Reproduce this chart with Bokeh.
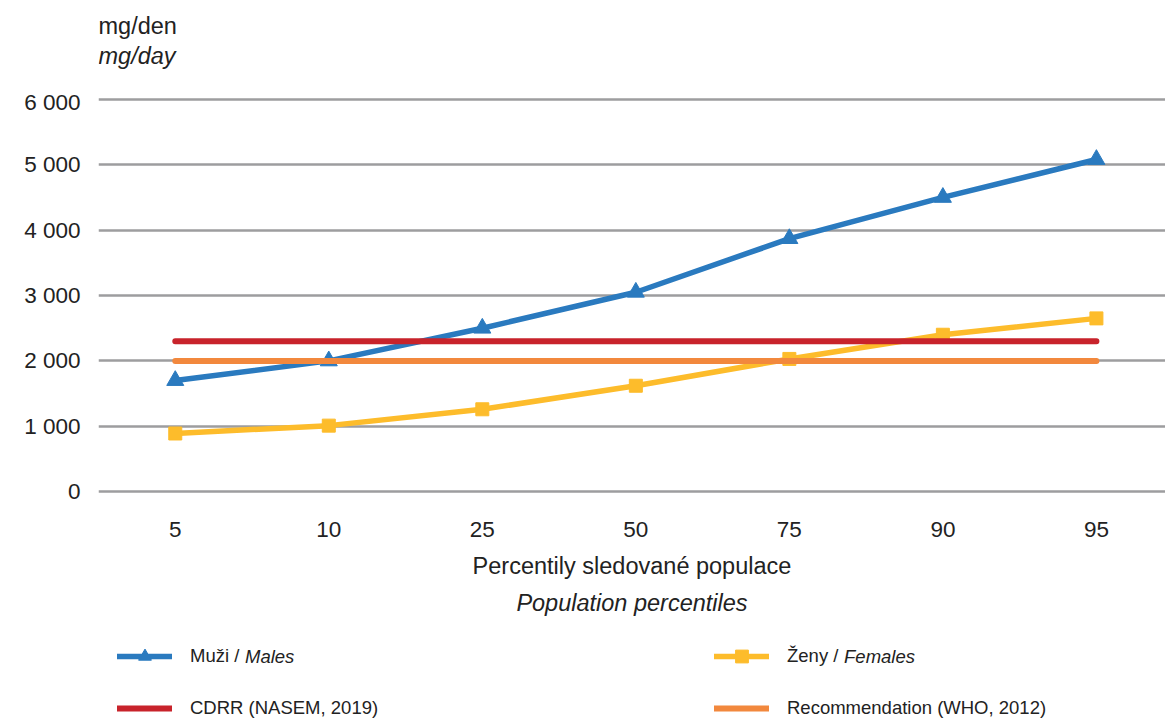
from bokeh.plotting import figure
from bokeh.layouts import column
from bokeh.models import (Range1d, FixedTicker, LinearAxis, Legend, LegendItem, Label)
from bokeh.embed import file_html
from bokeh.resources import INLINE

percentiles = ["5", "10", "25", "50", "75", "90", "95"]
males = [1700, 2000, 2500, 3050, 3870, 4500, 5080]
females = [890, 1010, 1260, 1620, 2030, 2400, 2650]
cdrr_value = 2300
who_value = 2000
y_ticks = [0, 1000, 2000, 3000, 4000, 5000, 6000]
y_tick_labels = ["0", "1 000", "2 000", "3 000", "4 000", "5 000", "6 000"]

FONT = "Liberation Sans"
TXT = "#222222"
BLUE = "#2a7abf"
YELLOW = "#fdbc2b"
RED = "#c8232b"
ORANGE = "#f2883d"
GRID = "#9d9d9f"
LEFT = 98
FW = 1067
LEG_FS = 18.5

x = list(range(len(percentiles)))


def blank(height):
    # strip whose frame is aligned with the chart frame; 1 data unit = 1 px
    f = figure(frame_width=FW, frame_height=height, output_backend="svg",
               toolbar_location=None, x_range=Range1d(0, FW), y_range=Range1d(height, 0),
               min_border_left=LEFT, min_border_right=0, min_border_top=0,
               min_border_bottom=0, x_axis_type=None, y_axis_type=None)
    f.outline_line_color = None
    f.grid.grid_line_color = None
    return f


# ---- unit header ----
top = blank(89)
top.add_layout(Label(x=0, y=25, text="mg/den", text_font=FONT, text_font_size="23.5px",
                     text_color=TXT, text_baseline="middle"))
top.add_layout(Label(x=0, y=55, text="mg/day", text_font=FONT, text_font_size="23.5px",
                     text_font_style="italic", text_color=TXT, text_baseline="middle"))

# ---- main chart ----
p = figure(frame_width=FW, frame_height=412, output_backend="svg",
           toolbar_location=None, x_range=Range1d(-0.5, 6.45),
           y_range=Range1d(-150, 6150), min_border_left=LEFT, min_border_right=0,
           min_border_top=0, min_border_bottom=0)
p.outline_line_color = None

p.yaxis.ticker = FixedTicker(ticks=y_ticks)
p.yaxis.major_label_overrides = dict(zip(y_ticks, y_tick_labels))
p.yaxis.axis_line_color = None
p.yaxis.major_tick_line_color = None
p.yaxis.minor_tick_line_color = None
p.yaxis.major_label_standoff = 12
p.yaxis.major_label_text_font = FONT
p.yaxis.major_label_text_font_size = "22.5px"
p.yaxis.major_label_text_color = TXT

p.ygrid.ticker = FixedTicker(ticks=y_ticks)
p.ygrid.grid_line_color = GRID
p.ygrid.grid_line_width = 2.5
p.xgrid.grid_line_color = None

p.xaxis.ticker = FixedTicker(ticks=x)
p.xaxis.major_label_overrides = dict(zip(x, percentiles))
p.xaxis.axis_line_color = None
p.xaxis.major_tick_line_color = None
p.xaxis.minor_tick_line_color = None
p.xaxis.major_label_standoff = 14
p.xaxis.major_label_text_font = FONT
p.xaxis.major_label_text_font_size = "22.5px"
p.xaxis.major_label_text_color = TXT
p.xaxis.axis_label = "Percentily sledované populace"
p.xaxis.axis_label_text_font = FONT
p.xaxis.axis_label_text_font_size = "23.5px"
p.xaxis.axis_label_text_font_style = "normal"
p.xaxis.axis_label_text_color = TXT
p.xaxis.axis_label_standoff = 13

ax2 = LinearAxis(ticker=FixedTicker(ticks=[]), axis_line_color=None,
                 major_tick_line_color=None, minor_tick_line_color=None,
                 major_label_text_font_size="0px",
                 axis_label="Population percentiles", axis_label_text_font=FONT,
                 axis_label_text_font_size="23.5px", axis_label_text_font_style="italic",
                 axis_label_text_color=TXT, axis_label_standoff=8)
p.add_layout(ax2, "below")

p.line(x, males, line_color=BLUE, line_width=5.5)
p.scatter(x, males, marker="triangle", size=17, fill_color=BLUE, line_color=BLUE)
p.line(x, females, line_color=YELLOW, line_width=5.5)
p.scatter(x, females, marker="square", size=13, fill_color=YELLOW, line_color=YELLOW)
p.line(x, [cdrr_value] * len(x), line_color=RED, line_width=6, line_cap="round")
p.line(x, [who_value] * len(x), line_color=ORANGE, line_width=6, line_cap="round")

# ---- legend strip (series drawn off-view, only their legend swatches show) ----
lg = blank(108)
r_ml = lg.line(x, males, line_color=BLUE, line_width=5.5, line_cap="round")
r_mm = lg.scatter(x, males, marker="triangle", fill_color=BLUE, line_color=BLUE)
r_fl = lg.line(x, females, line_color=YELLOW, line_width=5.5, line_cap="round")
r_fm = lg.scatter(x, females, marker="square", fill_color=YELLOW, line_color=YELLOW)
r_c = lg.line(x, [cdrr_value] * len(x), line_color=RED, line_width=6, line_cap="round")
r_w = lg.line(x, [who_value] * len(x), line_color=ORANGE, line_width=6, line_cap="round")

legend = Legend(items=[
    LegendItem(label="Muži /", renderers=[r_ml, r_mm]),
    LegendItem(label="Ženy /", renderers=[r_fl, r_fm]),
    LegendItem(label="CDRR (NASEM, 2019)", renderers=[r_c]),
    LegendItem(label="Recommendation (WHO, 2012)", renderers=[r_w]),
], ncols=2, location=(19, 2), orientation="horizontal")
legend.border_line_color = None
legend.background_fill_alpha = 0
legend.label_text_font = FONT
legend.label_text_font_size = f"{LEG_FS}px"
legend.label_text_color = TXT
legend.glyph_width = 55
legend.glyph_height = 32
legend.label_height = 32
legend.label_standoff = 18
legend.spacing = 20
legend.label_width = 504
legend.padding = 0
legend.margin = 0
lg.add_layout(legend, "center")

# italic English halves of the two series labels
col1_text = 19 + 55 + 18
col2_text = col1_text + 504 + 20 + 55 + 18
lg.add_layout(Label(x=col1_text + 2.945 * LEG_FS, y=38, text="Males", text_font=FONT,
                    text_font_size=f"{LEG_FS}px", text_font_style="italic",
                    text_color=TXT, text_baseline="middle"))
lg.add_layout(Label(x=col2_text + 3.057 * LEG_FS, y=38, text="Females", text_font=FONT,
                    text_font_size=f"{LEG_FS}px", text_font_style="italic",
                    text_color=TXT, text_baseline="middle"))

layout = column(top, p, lg, spacing=0)
open("out.html", "w").write(file_html(layout, INLINE))
